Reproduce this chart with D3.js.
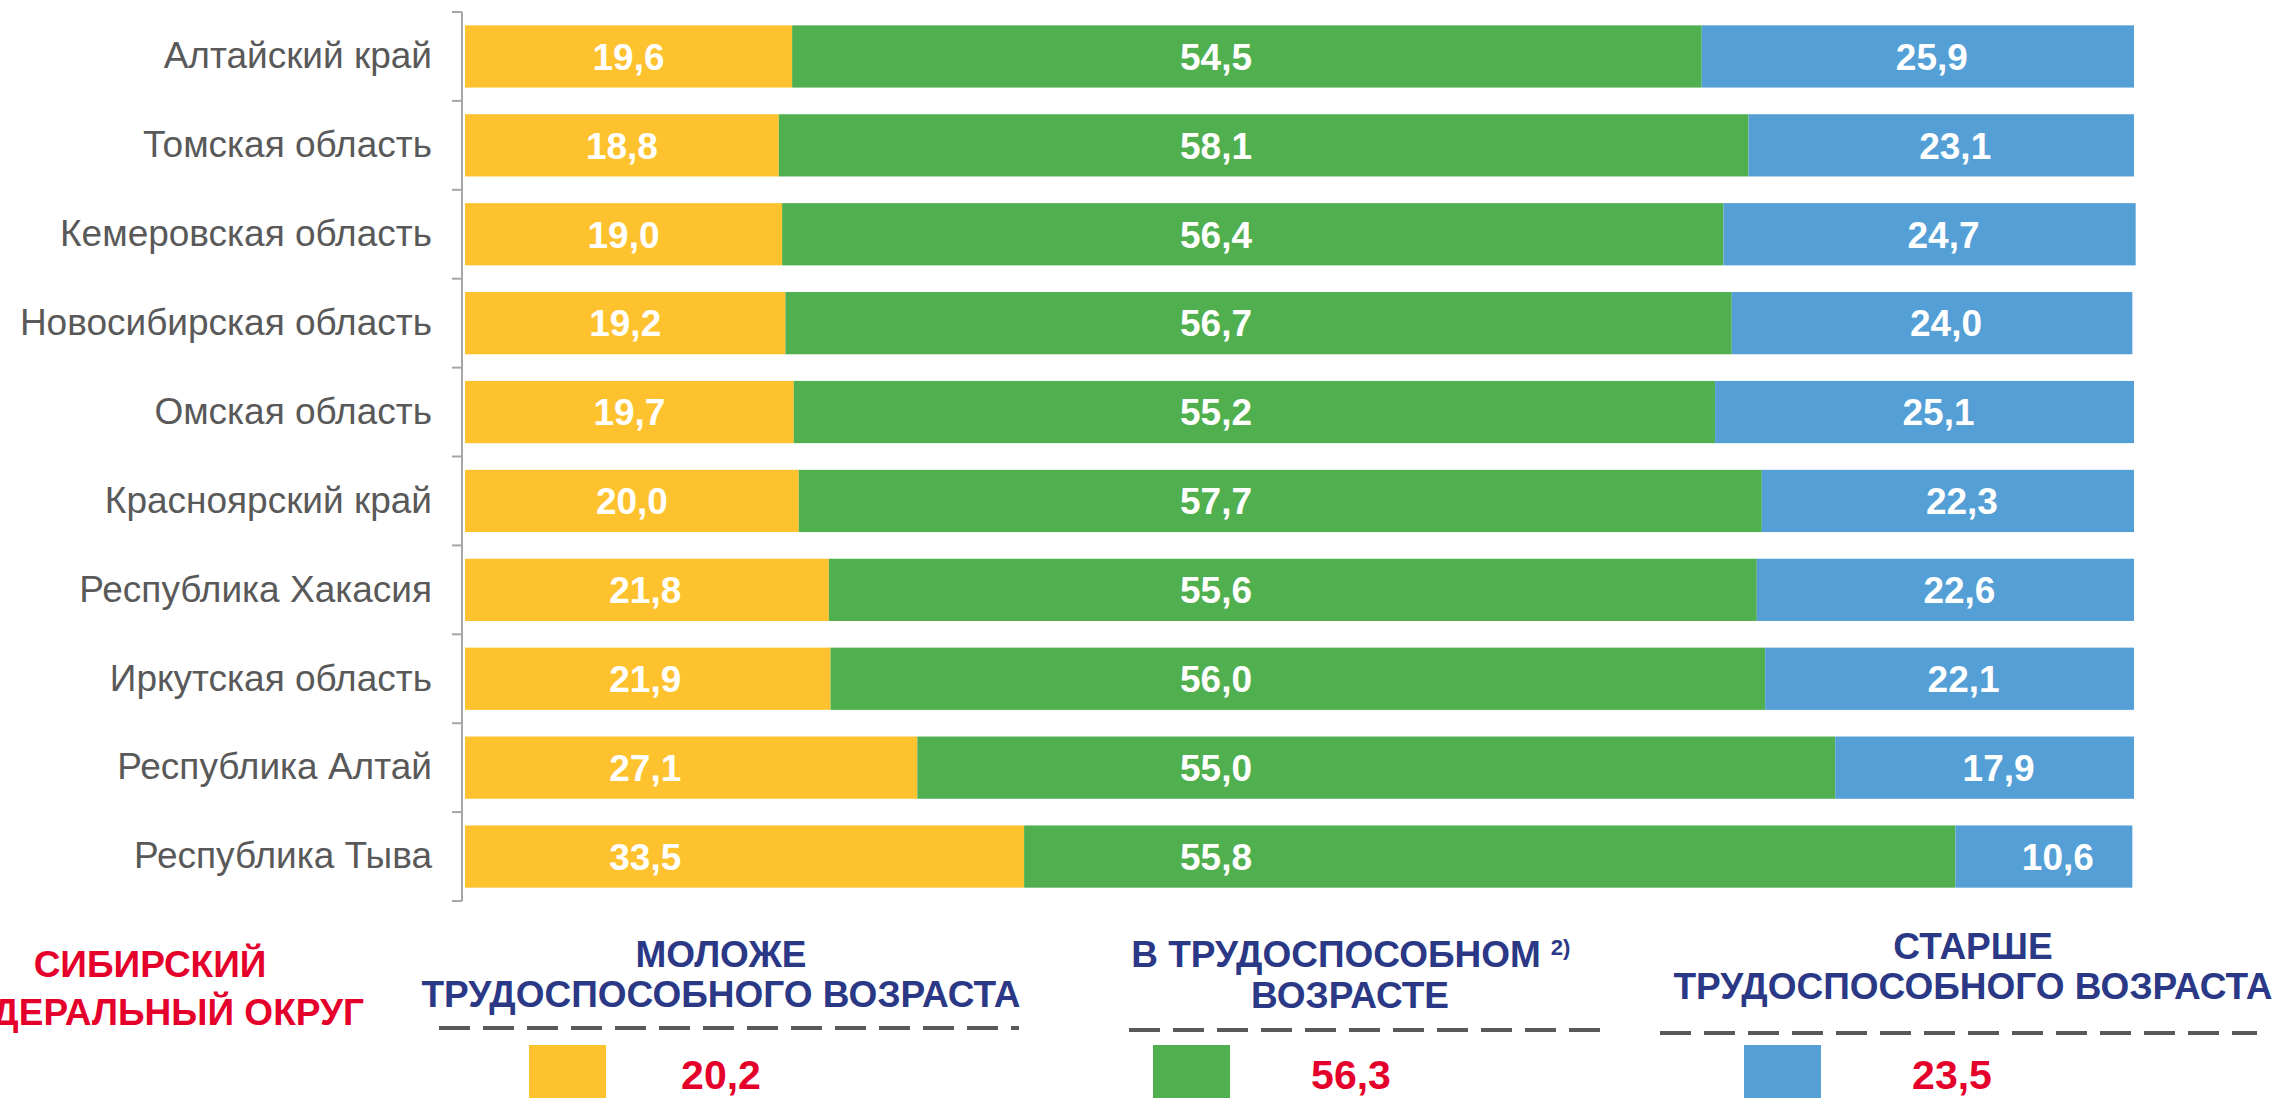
<!DOCTYPE html>
<html lang="ru">
<head>
<meta charset="utf-8">
<title>Возрастная структура населения</title>
<script src="https://cdn.jsdelivr.net/npm/d3@7"></script>
<style>
  body { margin: 0; background: #fff; }
  svg { display: block; }
</style>
</head>
<body>
<script>

var width = 2278;
var height = 1098;

// данные
var regions = ["Алтайский край", "Томская область", "Кемеровская область", "Новосибирская область",
  "Омская область", "Красноярский край", "Республика Хакасия", "Иркутская область",
  "Республика Алтай", "Республика Тыва"];
var young   = [19.6, 18.8, 19.0, 19.2, 19.7, 20.0, 21.8, 21.9, 27.1, 33.5];
var working = [54.5, 58.1, 56.4, 56.7, 55.2, 57.7, 55.6, 56.0, 55.0, 55.8];
var old     = [25.9, 23.1, 24.7, 24.0, 25.1, 22.3, 22.6, 22.1, 17.9, 10.6];
var groupKeys = ["young", "working", "old"];
var groupColors = ["#FEC22F", "#50AF4F", "#539FD6"];
var districtName = ["СИБИРСКИЙ", "ФЕДЕРАЛЬНЫЙ ОКРУГ"];
var districtTotals = [20.2, 56.3, 23.5];

var rows = regions.map(function(r, i) {
  return {region: r, young: young[i], working: working[i], old: old[i]};
});

var fmt = function(v) { return d3.format(".1f")(v).replace(".", ","); };

var svg = d3.select("body").append("svg")
  .attr("width", width)
  .attr("height", height);

var x = d3.scaleLinear().domain([0, 100]).range([465, 2134]);
var y = d3.scaleBand().domain(regions).range([12, 901]).paddingInner(0.3).paddingOuter(0.15);
var color = d3.scaleOrdinal().domain(groupKeys).range(groupColors);

var series = d3.stack().keys(groupKeys)(rows);

var layer = svg.selectAll("g.layer")
  .data(series)
  .enter().append("g")
  .attr("class", "layer")
  .attr("fill", function(d) { return color(d.key); });

layer.selectAll("rect")
  .data(function(d) { return d; })
  .enter().append("rect")
  .attr("x", function(d) { return x(d[0]); })
  .attr("y", function(d) { return y(d.data.region); })
  .attr("width", function(d) { return x(d[1]) - x(d[0]); })
  .attr("height", y.bandwidth());

// подписи значений
function labelX(key, d) {
  if (key === "young") return x(Math.min((d[0] + d[1]) / 2, 10.8));
  if (key === "working") return x(45);
  return x((d[0] + d[1]) / 2) + 14;
}

layer.selectAll("text")
  .data(function(d) { return d.map(function(p) { p.key = d.key; return p; }); })
  .enter().append("text")
  .attr("x", function(d) { return labelX(d.key, d); })
  .attr("y", function(d) { return y(d.data.region) + y.bandwidth() / 2; })
  .attr("dy", "0.36em")
  .attr("text-anchor", "middle")
  .attr("fill", "#fff")
  .style("font", "bold 37px 'Liberation Sans', Arial, sans-serif")
  .text(function(d) { return fmt(d.data[d.key]); });

// ось
var yAxis = d3.axisLeft(y).tickSize(0).tickPadding(30);
var axisG = svg.append("g")
  .attr("transform", "translate(462,0)")
  .call(yAxis);
axisG.select(".domain").remove();
axisG.selectAll("text")
  .attr("fill", "#595959")
  .style("font", "37px 'Liberation Sans', Arial, sans-serif");

svg.append("line")
  .attr("x1", 462).attr("x2", 462)
  .attr("y1", y.range()[0]).attr("y2", y.range()[1])
  .attr("stroke", "#A6A6A6").attr("stroke-width", 2);

var bounds = regions.map(function(r) { return y(r) - y.step() * y.paddingInner() / 2; });
bounds.push(y.range()[1]);
bounds[0] = y.range()[0];
svg.selectAll("line.tick-mark")
  .data(bounds)
  .enter().append("line")
  .attr("class", "tick-mark")
  .attr("x1", 452).attr("x2", 462)
  .attr("y1", function(d) { return d; })
  .attr("y2", function(d) { return d; })
  .attr("stroke", "#A6A6A6").attr("stroke-width", 2);

// легенда
var titleFont = "bold 37px 'Liberation Sans', Arial, sans-serif";

var district = svg.append("text")
  .attr("text-anchor", "middle")
  .attr("fill", "#E4002B")
  .style("font", titleFont);
district.selectAll("tspan")
  .data(districtName)
  .enter().append("tspan")
  .attr("x", 150)
  .attr("y", function(d, i) { return 977 + i * 48; })
  .text(function(d) { return d; });

var legendItems = [
  {lines: ["МОЛОЖЕ", "ТРУДОСПОСОБНОГО ВОЗРАСТА"], cx: 721, ty: [967, 1007], dash: [439, 1019, 1028], sq: 529, vx: 721},
  {lines: ["В ТРУДОСПОСОБНОМ", "ВОЗРАСТЕ"], sup: "2)", cx: 1350, ty: [967, 1008], dash: [1129, 1600, 1030], sq: 1153, vx: 1351},
  {lines: ["СТАРШЕ", "ТРУДОСПОСОБНОГО ВОЗРАСТА"], cx: 1973, ty: [959, 999], dash: [1660, 2257, 1033], sq: 1744, vx: 1952}
];

var leg = svg.selectAll("g.legend")
  .data(legendItems)
  .enter().append("g")
  .attr("class", "legend");

leg.each(function(d, i) {
  var g = d3.select(this);
  var t = g.append("text")
    .attr("text-anchor", "middle")
    .attr("fill", "#2A3886")
    .style("font", titleFont);
  d.lines.forEach(function(line, j) {
    t.append("tspan")
      .attr("class", "ln")
      .attr("x", d.cx)
      .attr("y", d.ty[j])
      .text(line);
  });
  if (d.sup) {
    // надстрочный индекс отдельным текстом справа от первой строки
    var first = t.select("tspan.ln").node();
    var w = first.getComputedTextLength();
    d3.select(first).attr("x", d.cx - 14);
    g.append("text")
      .attr("x", d.cx - 14 + w / 2 + 10)
      .attr("y", d.ty[0] - 12)
      .attr("fill", "#2A3886")
      .style("font", "bold 22px 'Liberation Sans', Arial, sans-serif")
      .text(d.sup);
  }
  g.append("line")
    .attr("x1", d.dash[0]).attr("x2", d.dash[1])
    .attr("y1", d.dash[2]).attr("y2", d.dash[2])
    .attr("stroke", "#595959")
    .attr("stroke-width", 4)
    .attr("stroke-dasharray", "31 13");
  g.append("rect")
    .attr("x", d.sq).attr("y", 1045)
    .attr("width", 77).attr("height", 60)
    .attr("fill", groupColors[i]);
  g.append("text")
    .attr("x", d.vx).attr("y", 1089)
    .attr("text-anchor", "middle")
    .attr("fill", "#E4002B")
    .style("font", "bold 41px 'Liberation Sans', Arial, sans-serif")
    .text(fmt(districtTotals[i]));
});

</script>
</body>
</html>
